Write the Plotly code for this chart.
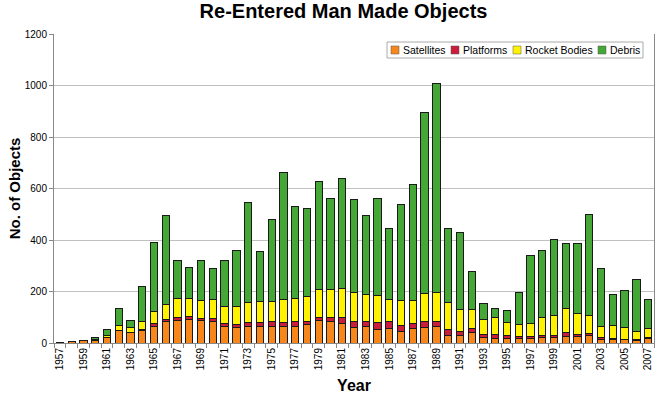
import plotly.graph_objects as go

years = [str(y) for y in range(1957, 2008)]
tick_labels = [y if int(y) % 2 == 1 else "" for y in years]

satellites = [2, 5, 8, 10, 20, 47, 42, 48, 66, 85, 89, 93, 87, 82, 66, 59, 66, 65, 65, 65, 65, 73, 88, 83,
              75, 60, 65, 53, 55, 43, 55, 60, 65, 30, 30, 40, 21, 17, 18, 16, 18, 22, 20, 27, 25, 31, 13, 12, 12, 10, 17]
platforms = [0, 0, 0, 0, 0, 0, 0, 4, 8, 8, 10, 11, 10, 13, 9, 13, 12, 13, 17, 14, 18, 12, 12, 16,
             23, 23, 18, 26, 29, 25, 20, 22, 17, 23, 13, 16, 13, 17, 12, 8, 9, 8, 10, 13, 9, 7, 7, 4, 3, 4, 4]
rocket_bodies = [0, 2, 2, 3, 11, 20, 20, 31, 47, 56, 73, 69, 70, 73, 65, 70, 81, 82, 81, 91, 90, 97, 107, 109,
                 112, 112, 104, 105, 85, 99, 91, 111, 113, 104, 87, 75, 57, 64, 50, 48, 48, 70, 78, 93, 81, 70, 46, 52, 44, 30, 36]
debris = [0, 0, 0, 10, 22, 68, 25, 135, 269, 345, 149, 120, 155, 120, 182, 218, 387, 196, 316, 493, 357, 341, 422, 355,
          429, 364, 309, 378, 274, 369, 451, 701, 811, 289, 298, 148, 63, 35, 47, 125, 263, 258, 293, 255, 272, 391, 222, 120, 145, 203, 111]

series = [
    ("Satellites", satellites, "#F7861B"),
    ("Platforms", platforms, "#CC1C3C"),
    ("Rocket Bodies", rocket_bodies, "#FFF200"),
    ("Debris", debris, "#45A836"),
]

W, H = 657, 396
ML, MR, MT, MB = 54, 3, 34, 53
PW, PH = W - ML - MR, H - MT - MB


def px2x(px):
    return (px - ML) / PW


def py2y(py):
    return (H - MB - py) / PH


fig = go.Figure()
for name, vals, col in series:
    fig.add_trace(go.Bar(
        x=years, y=vals, name=name, showlegend=False,
        marker=dict(color=col, line=dict(color="#1a1a1a", width=1)),
    ))

# legend drawn as a box with coloured squares and text
shapes = [dict(type="rect", xref="paper", yref="paper",
               x0=px2x(387), x1=px2x(643), y0=py2y(58), y1=py2y(42),
               line=dict(color="#aaaaaa", width=1), fillcolor="white", layer="above")]
annotations = []
legend_sq_x = [391, 451, 513, 598]
for (name, vals, col), sx in zip(series, legend_sq_x):
    shapes.append(dict(type="rect", xref="paper", yref="paper",
                       x0=px2x(sx), x1=px2x(sx + 8), y0=py2y(54), y1=py2y(46),
                       line=dict(color="#555555", width=0.5), fillcolor=col, layer="above"))
    annotations.append(dict(text=name, xref="paper", yref="paper",
                            x=px2x(sx + 10), y=py2y(50), xanchor="left", yanchor="middle",
                            showarrow=False, font=dict(size=10.5, color="black")))

fig.update_layout(
    barmode="stack",
    bargap=0.38,
    width=W, height=H,
    margin=dict(l=ML, r=MR, t=MT, b=MB, autoexpand=False),
    paper_bgcolor="white",
    plot_bgcolor="white",
    font=dict(family="Arial, Liberation Sans, sans-serif", color="black"),
    title=dict(text="<b>Re-Entered Man Made Objects</b>", x=px2x(343.5), xanchor="center", xref="paper",
               y=(H - 11) / H, yanchor="middle", font=dict(size=20)),
    shapes=shapes,
    annotations=annotations,
)

fig.update_xaxes(
    type="category",
    tickmode="array",
    tickvals=years,
    ticktext=tick_labels,
    tickangle=-90,
    tickfont=dict(size=10),
    ticks="outside", ticklen=4, tickcolor="#888", tickson="boundaries",
    showline=True, linecolor="#888", linewidth=1,
    title=dict(text="<b>Year</b>", font=dict(size=16), standoff=10),
)
fig.update_yaxes(
    range=[0, 1200],
    dtick=200,
    tickfont=dict(size=10),
    showgrid=True, gridcolor="#c0c0c0", gridwidth=1,
    showline=True, linecolor="#888", linewidth=1, mirror=True,
    ticks="outside", ticklen=4, tickcolor="#888",
    title=dict(text="<b>No. of Objects</b>", font=dict(size=15), standoff=0),
    zeroline=False,
)

fig.write_html("out.html", config={"displayModeBar": False},
               post_script="document.body.style.margin='0';")
